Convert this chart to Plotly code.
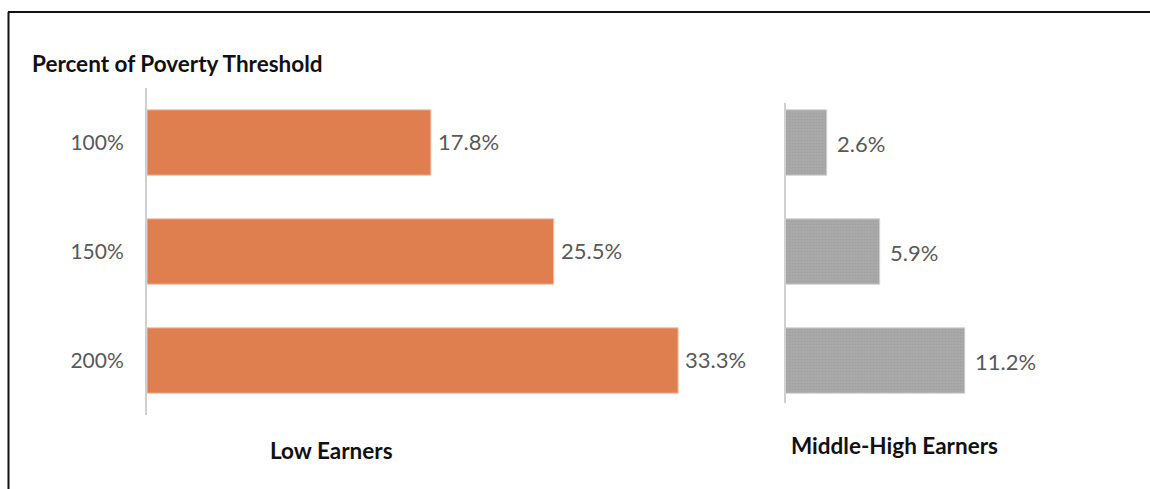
import plotly.graph_objects as go

# Poverty thresholds (category axis) and share of each earner group below them
thresholds = ["100%", "150%", "200%"]
low_earners = [17.8, 25.5, 33.3]
mid_high_earners = [2.6, 5.9, 11.2]

W, H = 1150, 489
FONT = "Lato"
ORANGE = "#DF7F50"
GRAY = "#A6A6A6"
TXT = "#595959"


def px_x(p):
    return p / W


def px_y(p):
    return 1 - p / H


fig = go.Figure()

fig.add_trace(go.Bar(
    x=low_earners, y=thresholds, orientation="h",
    marker=dict(color=ORANGE, line=dict(color="#F3C3A8", width=1)),
    xaxis="x", yaxis="y", hoverinfo="skip",
))
fig.add_trace(go.Bar(
    x=mid_high_earners, y=thresholds, orientation="h",
    marker=dict(color=GRAY, line=dict(color="#D2D2D2", width=1),
                pattern=dict(shape=".", fgcolor="#989898", bgcolor="#AAAAAA",
                             size=3, solidity=0.35)),
    xaxis="x2", yaxis="y2", hoverinfo="skip",
))

# value labels beside each bar
annotations = []
for v, c in zip(low_earners, thresholds):
    annotations.append(dict(
        x=v, y=c, xref="x", yref="y", text=f"{v:.1f}%", showarrow=False,
        xanchor="left", yanchor="middle", xshift=5, yshift=1,
        font=dict(family=FONT, size=22, color=TXT),
    ))
for v, c in zip(mid_high_earners, thresholds):
    annotations.append(dict(
        x=v, y=c, xref="x2", yref="y2", text=f"{v:.1f}%", showarrow=False,
        xanchor="left", yanchor="middle", xshift=8, yshift=-1,
        font=dict(family=FONT, size=22, color=TXT),
    ))

# headings
annotations += [
    dict(x=px_x(30), y=px_y(64), xref="paper", yref="paper",
         text="<b>Percent of Poverty Threshold</b>", showarrow=False,
         xanchor="left", yanchor="middle",
         font=dict(family=FONT, size=22.5, color="#111111")),
    dict(x=px_x(331), y=px_y(450), xref="paper", yref="paper",
         text="<b>Low Earners</b>", showarrow=False,
         xanchor="center", yanchor="middle",
         font=dict(family=FONT, size=22.5, color="#111111")),
    dict(x=px_x(894), y=px_y(445), xref="paper", yref="paper",
         text="<b>Middle-High Earners</b>", showarrow=False,
         xanchor="center", yanchor="middle",
         font=dict(family=FONT, size=22.5, color="#111111")),
]

shapes = [
    # frame: top and left rules
    dict(type="line", xref="paper", yref="paper",
         x0=px_x(8), x1=px_x(1150), y0=px_y(12), y1=px_y(12),
         line=dict(color="#111111", width=2)),
    dict(type="line", xref="paper", yref="paper",
         x0=px_x(8.5), x1=px_x(8.5), y0=px_y(12), y1=px_y(489),
         line=dict(color="#111111", width=2)),
    # baseline of the right panel
    dict(type="line", xref="paper", yref="paper",
         x0=px_x(785), x1=px_x(785), y0=px_y(103), y1=px_y(403),
         line=dict(color="#D0D0D0", width=2)),
]

ydom = [px_y(415), px_y(88)]

fig.update_layout(
    width=W, height=H,
    margin=dict(l=0, r=0, t=0, b=0),
    paper_bgcolor="white", plot_bgcolor="white",
    showlegend=False, bargap=0.4,
    font=dict(family=FONT, color=TXT),
    xaxis=dict(domain=[px_x(147), px_x(147 + 36 * 15.95)], range=[0, 36],
               visible=False, fixedrange=True),
    xaxis2=dict(domain=[px_x(785), px_x(785 + 20 * 16.05)], range=[0, 20],
                visible=False, fixedrange=True),
    yaxis=dict(domain=ydom, anchor="x", type="category",
               categoryorder="array", categoryarray=thresholds,
               autorange="reversed", showline=True, linecolor="#D0D0D0",
               linewidth=2, showgrid=False, ticks="", ticklabelstandoff=17,
               tickfont=dict(family=FONT, size=21, color=TXT)),
    yaxis2=dict(domain=ydom, anchor="x2", type="category",
                categoryorder="array", categoryarray=thresholds,
                autorange="reversed", showline=False, showgrid=False,
                showticklabels=False),
    annotations=annotations,
    shapes=shapes,
)

fig.write_html("out.html")
